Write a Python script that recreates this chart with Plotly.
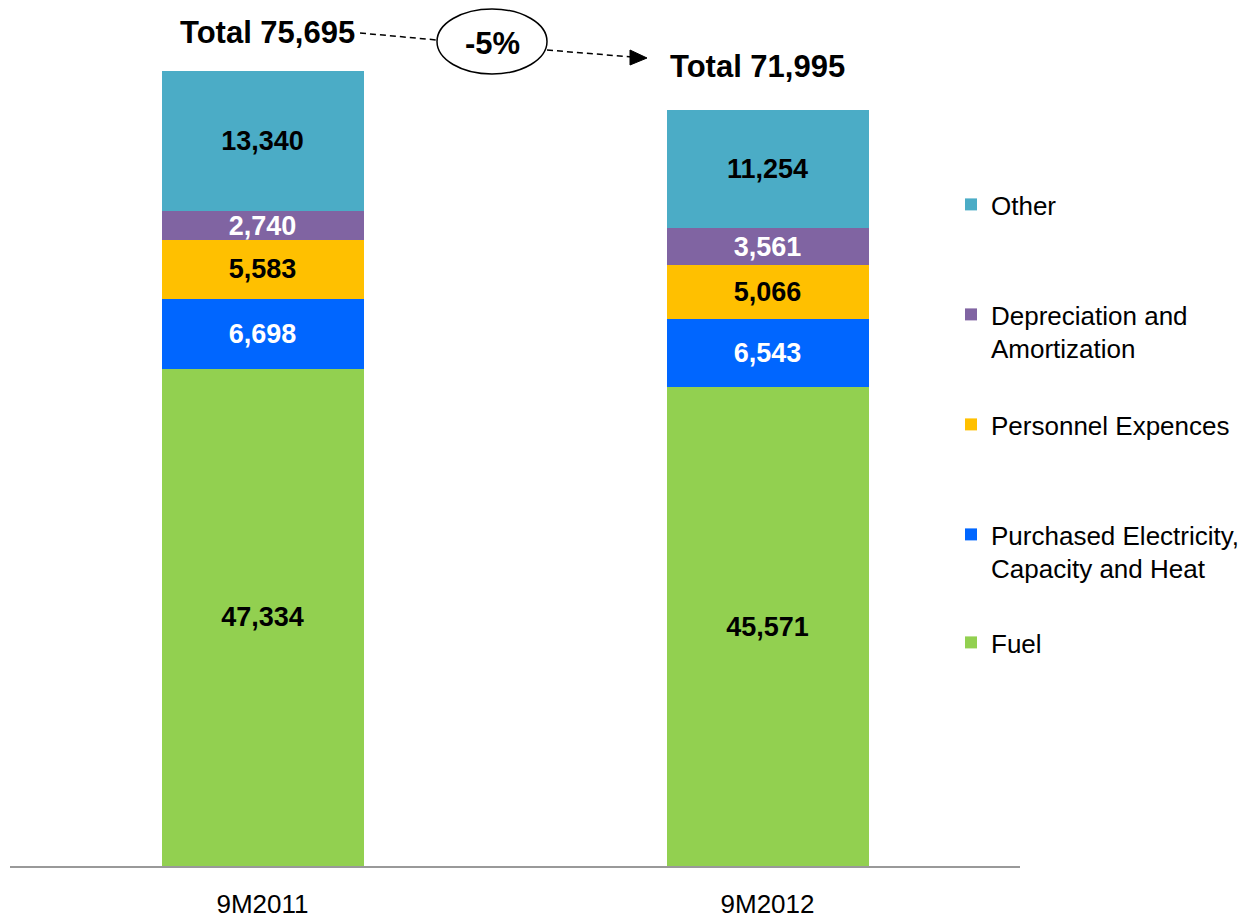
import plotly.graph_objects as go

categories = ["9M2011", "9M2012"]
series_names = ["Fuel", "Purchased Electricity,<br>Capacity and Heat", "Personnel Expences",
                "Depreciation and<br>Amortization", "Other"]
fuel = [47334, 45571]
purchased = [6698, 6543]
personnel = [5583, 5066]
depreciation = [2740, 3561]
other = [13340, 11254]
series_values = [fuel, purchased, personnel, depreciation, other]
series_colors = ["#92D050", "#0066FF", "#FFC000", "#8064A2", "#4BACC6"]
label_colors = ["black", "white", "black", "white", "black"]

FONT = "Liberation Sans, Arial, sans-serif"

W, H = 1245, 919
L, R, T, B = 10, 225, 40, 53
PW, PH = W - L - R, H - T - B


def px(x):
    return (x - L) / PW


def py(y):
    return (H - B - y) / PH


fig = go.Figure()
legend_ids = ["legend", "legend2", "legend3", "legend4", "legend5"]
for name, vals, col, lc, lid in zip(series_names, series_values, series_colors, label_colors, legend_ids):
    fig.add_trace(go.Bar(
        x=categories, y=vals, name=name, marker=dict(color=col, line=dict(width=0)),
        texttemplate="%{y:,}", textposition="inside", insidetextanchor="middle",
        constraintext="none", textangle=0,
        textfont=dict(family=FONT, size=27, color=lc, weight="bold"),
        legend=lid, hoverinfo="skip",
    ))

totals = [sum(v[i] for v in series_values) for i in range(len(categories))]
change = round((totals[1] / totals[0] - 1) * 100)

# legends: one per series, stacked with Other on top
legend_tops = {"legend5": 181, "legend4": 291, "legend3": 401, "legend2": 511, "legend": 619}
legend_layout = {}
for lid, top in legend_tops.items():
    legend_layout[lid] = dict(
        x=px(951), y=py(top), xanchor="left", yanchor="top",
        font=dict(family=FONT, size=26, color="black"),
        itemwidth=30, valign="top", bgcolor="rgba(0,0,0,0)", borderwidth=0,
        itemclick=False, itemdoubleclick=False,
    )

fig.update_layout(
    barmode="stack", bargap=0.6, width=W, height=H,
    margin=dict(l=L, r=R, t=T, b=B, autoexpand=False),
    template="none", paper_bgcolor="white", plot_bgcolor="white",
    showlegend=True,
    xaxis=dict(showline=True, linecolor="#999999", linewidth=2, showgrid=False, ticks="",
               tickfont=dict(family=FONT, size=26, color="black"), ticklabelstandoff=14,
               automargin=False, fixedrange=True),
    yaxis=dict(range=[0, 78650], visible=False, showgrid=False, zeroline=False, fixedrange=True),
    **legend_layout,
)

# totals
shifts = [(5, 39), (-10, 43)]
for cat, tot, (xs, ys) in zip(categories, totals, shifts):
    fig.add_annotation(x=cat, y=tot, text=f"Total {tot:,}", showarrow=False,
                       xanchor="center", yanchor="middle", xshift=xs, yshift=ys,
                       font=dict(family=FONT, size=31, color="black", weight="bold"))

# change ellipse and dashed arrow
fig.add_shape(type="circle", xref="paper", yref="paper",
              x0=px(437), x1=px(547), y0=py(74), y1=py(9),
              line=dict(color="black", width=1.5), fillcolor="rgba(0,0,0,0)")
fig.add_annotation(xref="paper", yref="paper", x=px(492), y=py(43), text=f"{change}%",
                   showarrow=False, xanchor="center", yanchor="middle",
                   font=dict(family=FONT, size=31, color="black", weight="bold"))
fig.add_shape(type="line", xref="paper", yref="paper", x0=px(360), y0=py(33), x1=px(437), y1=py(40),
              line=dict(color="black", width=1.5, dash="6px,4px"))
fig.add_shape(type="line", xref="paper", yref="paper", x0=px(547), y0=py(50), x1=px(632), y1=py(57),
              line=dict(color="black", width=1.5, dash="6px,4px"))
fig.add_shape(type="path", xref="paper", yref="paper",
              path=f"M {px(630)} {py(50)} L {px(647)} {py(58)} L {px(630)} {py(65)} Z",
              line=dict(color="black", width=1), fillcolor="black")

fig.write_html("out.html", config={"displayModeBar": False},
               post_script="document.body.style.margin='0';document.body.style.overflow='hidden';")
